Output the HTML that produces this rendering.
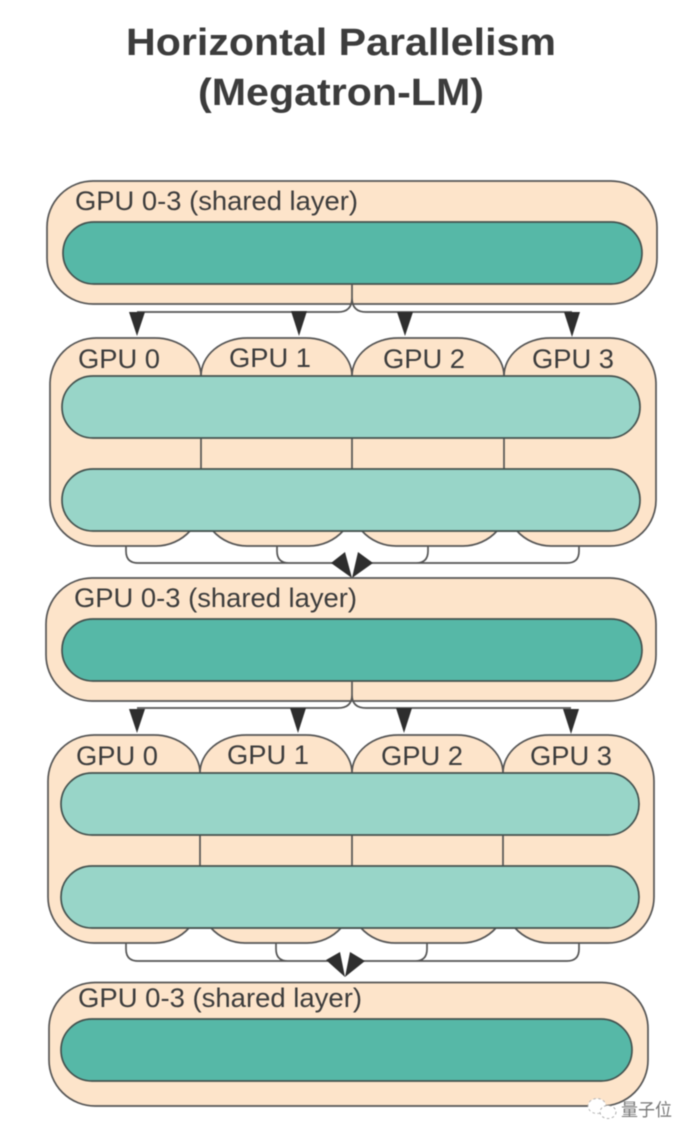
<!DOCTYPE html>
<html>
<head>
<meta charset="utf-8">
<style>
html,body{margin:0;padding:0;background:#fff;width:694px;height:1140px;overflow:hidden}
svg{display:block;filter:blur(0.45px)}
text{font-family:"Liberation Sans","Noto Sans CJK SC",sans-serif;fill:#3c3c3c}
.t{font-size:38px;font-weight:bold;text-anchor:middle}
.l{font-size:26.5px}
.o{fill:#fde4ca;stroke:#555;stroke-width:1.7}
.d{fill:#56b8a7;stroke:#44524f;stroke-width:1.7}
.m{fill:#98d5c8;stroke:#44524f;stroke-width:1.7}
.c{fill:none;stroke:#555;stroke-width:1.7}
.a{fill:#2e2e2e}
</style>
</head>
<body>
<svg width="694" height="1140" viewBox="0 0 694 1140" xmlns="http://www.w3.org/2000/svg">
<text class="t" x="341" y="55" textLength="430" lengthAdjust="spacingAndGlyphs">Horizontal Parallelism</text>
<text class="t" x="341" y="105" textLength="286" lengthAdjust="spacingAndGlyphs">(Megatron-LM)</text>

<!-- shared 1 -->
<rect class="o" x="47" y="181" width="610" height="123" rx="46"/>
<text class="l" x="75" y="210" textLength="283" lengthAdjust="spacingAndGlyphs">GPU 0-3 (shared layer)</text>
<rect class="d" x="63" y="222" width="579" height="62" rx="31"/>

<!-- fan-out 1 -->
<path class="c" d="M352 284V298Q352 312 338 312H137M352 298Q352 312 366 312H572"/>
<path class="a" d="M129 312H145L137 336Z"/>
<path class="a" d="M291 311H307L299 336Z"/>
<path class="a" d="M397 312H413L405 336Z"/>
<path class="a" d="M564 312H580L572 337Z"/>

<!-- GPU block 1 -->
<path class="c" d="M126 546V551Q126 563 138 563H336M277 546V551Q277 563 289 563H336M428 546V551Q428 563 416 563H368M579 546V551Q579 563 567 563H368"/>
<path class="o" d="M50 384A46 46 0 0 1 96 338H155A46 38 0 0 1 201 376A46 38 0 0 1 247 338H306A46 38 0 0 1 352 376A46 38 0 0 1 398 338H458A46 38 0 0 1 504 376A46 38 0 0 1 550 338H610A46 46 0 0 1 656 384V500A46 46 0 0 1 610 546H551A46 46 0 0 1 517 531H497A46 46 0 0 1 463 546H396A46 46 0 0 1 362 531H343A46 46 0 0 1 309 546H247A46 46 0 0 1 213 531H190A46 46 0 0 1 156 546H96A46 46 0 0 1 50 500Z"/>
<text class="l" x="78" y="368" textLength="82" lengthAdjust="spacingAndGlyphs">GPU 0</text>
<text class="l" x="229" y="367" textLength="82" lengthAdjust="spacingAndGlyphs">GPU 1</text>
<text class="l" x="383" y="368" textLength="82" lengthAdjust="spacingAndGlyphs">GPU 2</text>
<text class="l" x="532" y="368" textLength="82" lengthAdjust="spacingAndGlyphs">GPU 3</text>
<path class="c" d="M201 438V469M352 438V469M504 438V469"/>
<rect class="m" x="62" y="376" width="578" height="62" rx="31"/>
<rect class="m" x="62" y="469" width="578" height="62" rx="31"/>
<path class="a" d="M331 563L345 552L352 578Z"/>
<path class="a" d="M373 563L358 552L352 578Z"/>

<!-- shared 2 -->
<rect class="o" x="46" y="578" width="610" height="123" rx="46"/>
<text class="l" x="74" y="607" textLength="283" lengthAdjust="spacingAndGlyphs">GPU 0-3 (shared layer)</text>
<rect class="d" x="62" y="619" width="580" height="62" rx="31"/>

<!-- fan-out 2 -->
<path class="c" d="M352 681V695Q352 708 338 708H137M352 695Q352 708 366 708H571"/>
<path class="a" d="M129 709H145L137 733Z"/>
<path class="a" d="M290 708H306L298 733Z"/>
<path class="a" d="M396 708H412L404 733Z"/>
<path class="a" d="M563 709H579L571 734Z"/>

<!-- GPU block 2 -->
<path class="c" d="M126 943V949Q126 961 138 961H330M276 943V949Q276 961 288 961H330M427 943V949Q427 961 415 961H362M579 943V949Q579 961 567 961H362"/>
<path class="o" d="M48 781A46 46 0 0 1 94 735H154A46 38 0 0 1 200 773A46 38 0 0 1 246 735H306A46 38 0 0 1 352 773A46 38 0 0 1 398 735H457A46 38 0 0 1 503 773A46 38 0 0 1 549 735H608A46 46 0 0 1 654 781V897A46 46 0 0 1 608 943H549A46 46 0 0 1 515 928H496A46 46 0 0 1 462 943H395A46 46 0 0 1 361 928H341A46 46 0 0 1 307 943H245A46 46 0 0 1 211 928H189A46 46 0 0 1 155 943H94A46 46 0 0 1 48 897Z"/>
<text class="l" x="76" y="765" textLength="82" lengthAdjust="spacingAndGlyphs">GPU 0</text>
<text class="l" x="227" y="764" textLength="82" lengthAdjust="spacingAndGlyphs">GPU 1</text>
<text class="l" x="381" y="765" textLength="82" lengthAdjust="spacingAndGlyphs">GPU 2</text>
<text class="l" x="530" y="765" textLength="82" lengthAdjust="spacingAndGlyphs">GPU 3</text>
<path class="c" d="M200 835V866M352 835V866M503 835V866"/>
<rect class="m" x="61" y="773" width="578" height="62" rx="31"/>
<rect class="m" x="61" y="866" width="578" height="62" rx="31"/>
<path class="a" d="M326 960L340 952L345 977Z"/>
<path class="a" d="M365 961L350 952L345 977Z"/>

<!-- shared 3 -->
<rect class="o" x="49" y="982.5" width="599" height="123.5" rx="46"/>
<text class="l" x="78" y="1007" textLength="284" lengthAdjust="spacingAndGlyphs">GPU 0-3 (shared layer)</text>
<rect class="d" x="61" y="1019" width="571" height="62" rx="31"/>

<!-- watermark -->
<ellipse cx="597" cy="1106" rx="9" ry="7.5" fill="#fff" stroke="#aaa" stroke-width="0.8" stroke-dasharray="2.5 2.5"/>
<ellipse cx="608" cy="1112" rx="8" ry="6.5" fill="#fff" stroke="#999" stroke-width="0.8" stroke-dasharray="2.5 2.5"/>
<text x="621" y="1116" font-size="17.5" style="fill:#777" textLength="51" lengthAdjust="spacingAndGlyphs">量子位</text>
</svg>
</body>
</html>
